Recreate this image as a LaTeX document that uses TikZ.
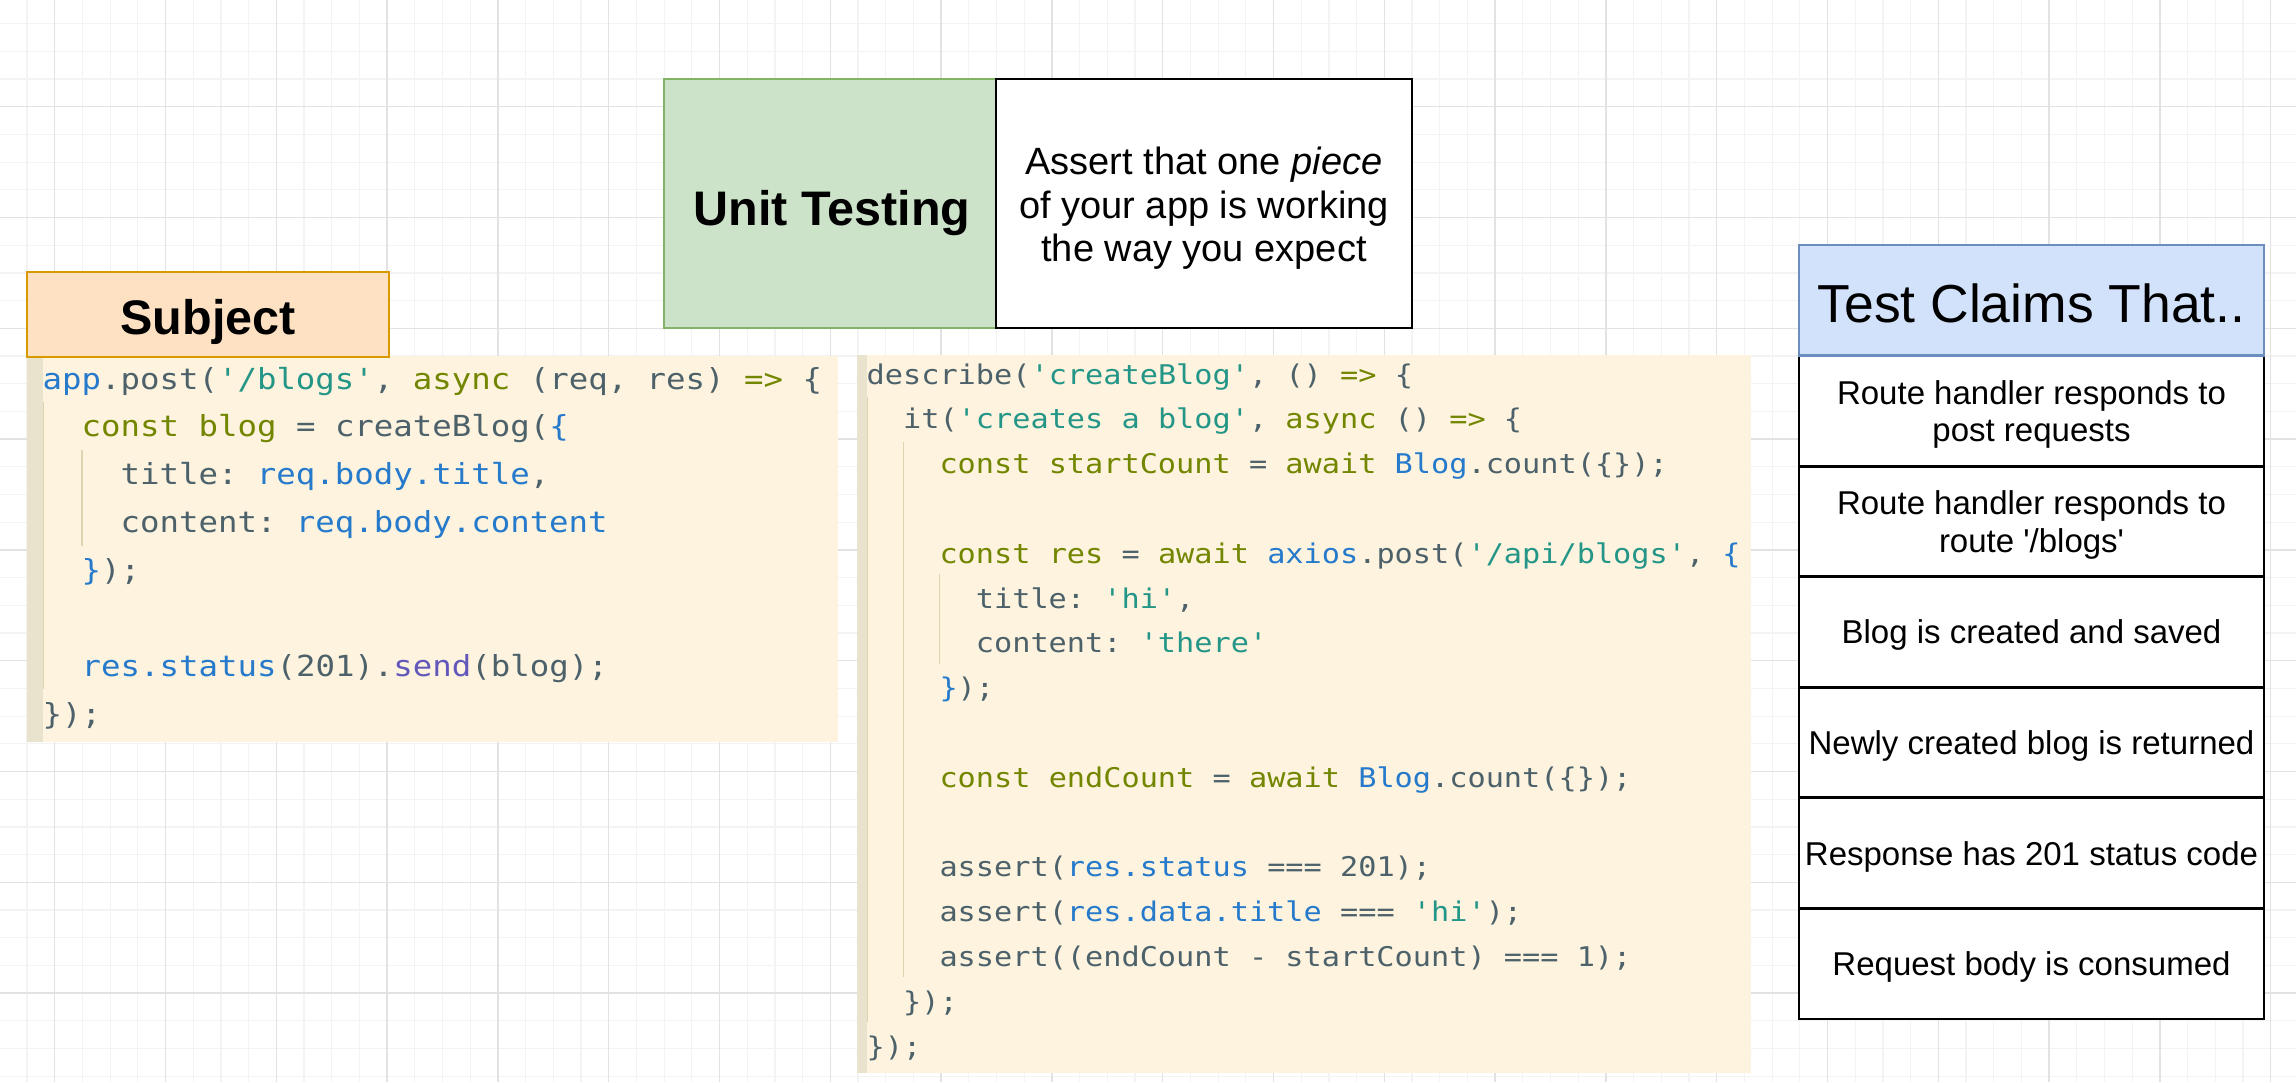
\documentclass[tikz,border=0pt]{standalone}
\usepackage{fontspec}
\setmainfont{Liberation Sans}[Ligatures=TeXOff]
\setmonofont{DejaVu Sans Mono}[FakeStretch=1.116]
\definecolor{gridminor}{RGB}{243,243,243}
\definecolor{gridmajor}{RGB}{226,226,226}
\definecolor{codebg}{RGB}{253,243,222}
\definecolor{gutter}{RGB}{233,227,205}
\definecolor{guide}{RGB}{222,212,176}
\definecolor{cgray}{RGB}{76,97,106}
\definecolor{cblue}{RGB}{38,122,203}
\definecolor{cteal}{RGB}{36,150,136}
\definecolor{cgreen}{RGB}{114,134,0}
\definecolor{cviolet}{RGB}{98,88,188}
\definecolor{subjfill}{RGB}{254,224,194}
\definecolor{subjdraw}{RGB}{215,155,0}
\definecolor{unitfill}{RGB}{205,227,201}
\definecolor{unitdraw}{RGB}{130,179,102}
\definecolor{headfill}{RGB}{210,226,250}
\definecolor{headdraw}{RGB}{108,142,191}
\newcommand\tkB[1]{\textcolor{cblue}{#1}}
\newcommand\tkT[1]{\textcolor{cteal}{#1}}
\newcommand\tkG[1]{\textcolor{cgreen}{#1}}
\newcommand\tkV[1]{\textcolor{cviolet}{#1}}
\tikzset{
  panel/.style={fill=codebg, draw=none, inner sep=0pt, outer sep=0pt},
  guideline/.style={draw=guide, line width=1.2bp},
  codeA/.style={anchor=base west, inner sep=0pt, text=cgray, font=\ttfamily\fontsize{29bp}{29bp}\selectfont},
  codeB/.style={anchor=base west, inner sep=0pt, text=cgray, font=\ttfamily\fontsize{27.1bp}{27.1bp}\selectfont},
  boldlabel/.style={anchor=base, inner sep=0pt, font=\bfseries\fontsize{48.5bp}{58bp}\selectfont},
  desclabel/.style={anchor=base, inner sep=0pt, font=\fontsize{38bp}{43.7bp}\selectfont},
  rowbox/.style={draw=black, fill=white, line width=2.8bp, minimum width=465bp, minimum height=110.57bp, inner sep=0pt, align=center, text depth=0pt, font=\fontsize{33bp}{37.5bp}\selectfont},
  headbox/.style={draw=headdraw, fill=headfill, line width=2.5bp, minimum width=465bp, minimum height=110.57bp, inner sep=0pt, font=\fontsize{53.5bp}{60bp}\selectfont}
}
\begin{document}
\begin{tikzpicture}[x=1bp,y=-1bp]
\useasboundingbox (0,0) rectangle (2296,1082);
\fill[white] (0,0) rectangle (2296,1082);
% grid
\foreach \k in {-1,...,82} \draw[gridminor,line width=1.2bp] ({27+\k*27.7},0) -- ({27+\k*27.7},1082);
\foreach \k in {-2,...,36} \draw[gridminor,line width=1.2bp] (0,{79+\k*27.7}) -- (2296,{79+\k*27.7});
\foreach \m in {0,...,20} \draw[gridmajor,line width=1.4bp] ({54.7+\m*110.8},0) -- ({54.7+\m*110.8},1082);
\foreach \m in {0,...,8} \draw[gridmajor,line width=1.4bp] (0,{106.7+\m*110.8}) -- (2296,{106.7+\m*110.8});

% code panel 1
\node[panel, minimum width=811bp, minimum height=386bp] (panelA) at (432.5,549) {};
\fill[gutter] (27,356) rectangle (43,742);
\draw[guideline] (43.5,402) -- (43.5,689);
\draw[guideline] (82,450) -- (82,546);
\node[codeA] (a1) at (42.5,389) {\tkB{app}.post(\tkT{'/blogs'}, \tkG{async} (req, res) \tkG{=>} \{};
\node[codeA] (a2) at (81.5,436.9) {\tkG{const blog} = createBlog(\tkB{\{}};
\node[codeA] (a3) at (120.4,484.8) {title: \tkB{req.body.title},};
\node[codeA] (a4) at (120.4,532.7) {content: \tkB{req.body.content}};
\node[codeA] (a5) at (81.5,580.6) {\tkB{\}});};
\node[codeA] (a7) at (81.5,676.4) {\tkB{res.status}(201).\tkV{send}(blog);};
\node[codeA] (a8) at (42.5,724.3) {\});};

% code panel 2
\node[panel, minimum width=894bp, minimum height=718bp] (panelB) at (1304,714) {};
\fill[gutter] (857,355) rectangle (867,1073);
\draw[guideline] (867.5,397) -- (867.5,1022);
\draw[guideline] (903.4,442) -- (903.4,977);
\draw[guideline] (939.8,574) -- (939.8,664);
\node[codeB] (b1) at (866.5,384) {describe(\tkT{'createBlog'}, () \tkG{=>} \{};
\node[codeB] (b2) at (902.9,428.8) {it(\tkT{'creates a blog'}, \tkG{async} () \tkG{=>} \{};
\node[codeB] (b3) at (939.3,473.6) {\tkG{const startCount} = \tkG{await} \tkB{Blog}.count(\{\});};
\node[codeB] (b5) at (939.3,563.2) {\tkG{const res} = \tkG{await} \tkB{axios}.post(\tkT{'/api/blogs'}, \tkB{\{}};
\node[codeB] (b6) at (975.7,608.0) {title: \tkT{'hi'},};
\node[codeB] (b7) at (975.7,652.8) {content: \tkT{'there'}};
\node[codeB] (b8) at (939.3,697.6) {\tkB{\}});};
\node[codeB] (b10) at (939.3,787.2) {\tkG{const endCount} = \tkG{await} \tkB{Blog}.count(\{\});};
\node[codeB] (b12) at (939.3,876.8) {assert(\tkB{res.status} === 201);};
\node[codeB] (b13) at (939.3,921.6) {assert(\tkB{res.data.title} === \tkT{'hi'});};
\node[codeB] (b14) at (939.3,966.4) {assert((endCount - startCount) === 1);};
\node[codeB] (b15) at (902.9,1011.2) {\});};
\node[codeB] (b16) at (866.5,1056) {\});};

% Subject box
\node[draw=subjdraw, fill=subjfill, line width=2.5bp, minimum width=362bp, minimum height=85bp, inner sep=0pt] (subject) at (208,314.5) {};
\node[boldlabel] (subjecttext) at (208,334) {Subject};

% Unit testing header
\node[draw=unitdraw, fill=unitfill, line width=2.5bp, minimum width=332bp, minimum height=249bp, inner sep=0pt] (unit) at (830,203.5) {};
\node[boldlabel] (unittext) at (832,225) {Unit Testing};
\node[draw=black, fill=white, line width=2.5bp, minimum width=416bp, minimum height=249bp, inner sep=0pt] (desc) at (1204,203.5) {};
\node[desclabel] (desc1) at (1204,174) {Assert that one \textit{piece}};
\node[desclabel] (desc2) at (1204,218) {of your app is working};
\node[desclabel] (desc3) at (1204,261.5) {the way you expect};

% Test claims table
\node[rowbox] (r1) at (2031.5,410.9) {Route handler responds to\\post requests};
\node[rowbox] (r2) at (2031.5,521.4) {Route handler responds to\\route '/blogs'};
\node[rowbox] (r3) at (2031.5,632.0) {Blog is created and saved};
\node[rowbox] (r4) at (2031.5,742.6) {Newly created blog is returned};
\node[rowbox] (r5) at (2031.5,853.1) {Response has 201 status code};
\node[rowbox] (r6) at (2031.5,963.7) {Request body is consumed};
\node[headbox] (head) at (2031.5,300.3) {};
\node[anchor=base, inner sep=0pt, font=\fontsize{53.5bp}{60bp}\selectfont] (headtext) at (2031.5,322) {Test Claims That..};
\end{tikzpicture}
\end{document}
